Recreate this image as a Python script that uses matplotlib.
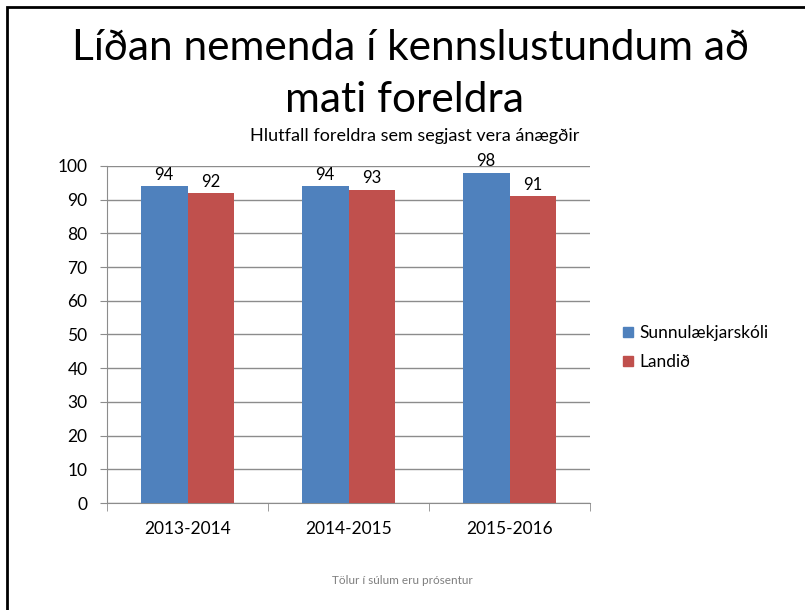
import numpy as np
import matplotlib.pyplot as plt
from matplotlib.patches import Rectangle, Patch

# gögn
years = ['2013-2014', '2014-2015', '2015-2016']
skoli = [94, 94, 98]
landid = [92, 93, 91]
series_names = ['Sunnulækjarskóli', 'Landið']
yticks = list(range(0, 101, 10))

blue = '#4F81BD'
red = '#C0504D'

plt.rcParams['font.family'] = ['Lato', 'DejaVu Sans']

fig = plt.figure(figsize=(8.05, 6.10), dpi=100)
ax = fig.add_axes([0.133, 0.1754, 0.600, 0.5525])

x = np.arange(len(years))
w = 0.29
b1 = ax.bar(x - w / 2, skoli, w, color=blue, zorder=3)
b2 = ax.bar(x + w / 2, landid, w, color=red, zorder=3)

for bars in (b1, b2):
    for r in bars:
        ax.text(r.get_x() + r.get_width() / 2, r.get_height() + 1, str(int(r.get_height())),
                ha='center', va='bottom', fontsize=12, color='black')

ax.set_xlim(-0.5, len(years) - 0.5)
ax.set_ylim(0, 100)
ax.set_yticks(yticks)
ax.yaxis.grid(True, color='#8c8c8c', lw=1, zorder=0)
ax.set_xticks(x)
ax.set_xticklabels(years, fontsize=12.5)
ax.set_xticks(np.arange(len(years) + 1) - 0.5, minor=True)
ax.tick_params(axis='x', which='major', length=0, pad=13)
ax.tick_params(axis='x', which='minor', length=6, color='#8c8c8c')
ax.tick_params(axis='y', length=5, color='#8c8c8c', labelsize=12.5, pad=9)

for s in ['top', 'right']:
    ax.spines[s].set_visible(False)
ax.spines['left'].set_color('#8c8c8c')
ax.spines['bottom'].set_color('#8c8c8c')

handles = [Patch(color=blue), Patch(color=red)]
fig.legend(handles, series_names, loc='center left', bbox_to_anchor=(0.755, 0.43),
           frameon=False, fontsize=12.5, handlelength=0.55, handleheight=0.55,
           handletextpad=0.35, labelspacing=0.75)

fig.text(0.51, 0.922, 'Líðan nemenda í kennslustundum að', ha='center', va='center', fontsize=30.5)
fig.text(0.503, 0.836, 'mati foreldra', ha='center', va='center', fontsize=30.5)
fig.text(0.515, 0.777, 'Hlutfall foreldra sem segjast vera ánægðir', ha='center', va='center', fontsize=13)
fig.text(0.5, 0.049, 'Tölur í súlum eru prósentur', ha='center', va='center', fontsize=8.5, color='#7f7f7f')

fig.add_artist(Rectangle((7 / 805, -0.1), 1.2, 1 - 7 / 610 + 0.1, transform=fig.transFigure,
                         fill=False, edgecolor='black', lw=2))

fig.savefig('out.png', dpi=100)
